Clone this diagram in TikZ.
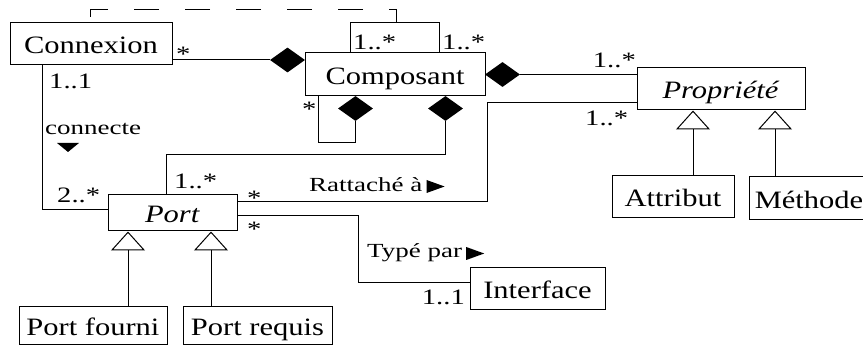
\documentclass[tikz,border=0pt]{standalone}
\usepackage{fontspec}
\setmainfont{Liberation Serif}[FakeStretch=1.22]
\newfontfamily\multfont{Liberation Serif}[FakeStretch=1.3]
\newfontfamily\assocfont{Liberation Serif}[FakeStretch=1.35]
\usepackage{tikz}
\usetikzlibrary{arrows.meta,positioning,shapes.geometric}

\begin{document}
\begin{tikzpicture}[x=1pt,y=-1pt,
    classbox/.style={draw,line width=1pt,inner sep=0pt,font=\fontsize{25}{30}\selectfont,
                     minimum height=42pt,text height=20pt,text depth=0pt},
    mult/.style={inner sep=0pt,font=\multfont\fontsize{22}{26}\selectfont},
    assoc/.style={inner sep=0pt,font=\assocfont\fontsize{20}{24}\selectfont},
    compo/.style={diamond,fill=black,inner sep=0pt,minimum width=35pt,minimum height=25pt},
    lien/.style={line width=1pt},
    herit/.style={line width=1pt,-{Triangle[open,length=19pt,width=34pt,line width=1pt]}},
    dashlink/.style={line width=1pt,dash pattern=on 25pt off 26pt,dash phase=5pt}]
  \useasboundingbox (0,0) rectangle (863,347);
  % classes
  \node[classbox,minimum width=162pt] (conn) at (91,44) {Connexion};
  \node[classbox,minimum width=180pt,minimum height=43pt] (comp) at (395,74.5) {Composant};
  \node[classbox,minimum width=168pt] (prop) at (721,89) {\textit{Propriété}};
  \node[classbox,minimum width=129pt,minimum height=36pt] (port) at (172.5,213) {\textit{Port}};
  \node[classbox,minimum width=135pt] (iface) at (537.5,289) {Interface};
  \node[classbox,minimum width=122pt] (attr) at (673,197) {Attribut};
  \node[classbox,minimum width=120pt,minimum height=43pt] (meth) at (809,198.5) {Méthode};
  \node[classbox,minimum width=148pt,minimum height=38pt] (pfourni) at (93,326) {Port fourni};
  \node[classbox,minimum width=149pt,minimum height=38pt] (preq) at (257.5,326) {Port requis};
  % compositions
  \node[compo] (dgc) at (287.5,60) {};
  \node[compo] (dcp) at (502.5,74.5) {};
  \node[compo] (dloop) at (355.5,108.5) {};
  \node[compo] (dport) at (445.5,108.5) {};
  \draw[lien] (conn.east |- dgc) -- (dgc.west);
  \draw[lien] (dcp.east) -- (prop.west |- dcp);
  \draw[lien] (comp.south -| 318,0) |- (dloop.south |- 0,143) -- (dloop.south);
  \draw[lien] (dport.south) |- (166,155) -- (port.north -| 166,0);
  % associations
  \draw[lien] (comp.north -| 350,0) |- (439,23) -- (comp.north -| 439,0);
  \coordinate (ac) at (396,23);
  \draw[dashlink] (ac) -- (396,10) -| (conn.north -| 90,0);
  \draw[lien] (conn.south -| 42,0) |- (port.west |- 0,210);
  \draw[lien] (port.east |- 0,202) -| (487,103) -- (prop.west |- 0,103);
  \draw[lien] (port.east |- 0,216) -| (358,283) -- (iface.west |- 0,283);
  % heritage
  \draw[herit] (pfourni.north -| 128,0) -- (port.south -| 128,0);
  \draw[herit] (preq.north -| 211,0) -- (port.south -| 211,0);
  \draw[herit] (attr.north -| 693,0) -- (prop.south -| 693,0);
  \draw[herit] (meth.north -| 775,0) -- (prop.south -| 775,0);
  % multiplicites
  \node[mult,anchor=base west] (m1) at (176,62) {*};
  \node[mult,anchor=base west] (m2) at (49,89) {1..1};
  \node[mult,anchor=base west] (m3) at (353,50) {1..*};
  \node[mult,anchor=base west] (m4) at (442,50) {1..*};
  \node[mult,anchor=base east] (m5) at (636,68) {1..*};
  \node[mult,anchor=base west] (m6) at (585,126) {1..*};
  \node[mult,anchor=base west] (m7) at (302,117) {*};
  \node[mult,anchor=base west] (m8) at (174,189) {1..*};
  \node[mult,anchor=base west] (m9) at (57,203) {2..*};
  \node[mult,anchor=base west] (m10) at (247,206) {*};
  \node[mult,anchor=base west] (m11) at (247,237) {*};
  \node[mult,anchor=base east] (m12) at (465,305) {1..1};
  % noms des associations
  \node[assoc,anchor=base west] (lconn) at (45,135) {connecte};
  \node[assoc,anchor=base west] (lratt) at (309,192) {Rattaché à};
  \node[assoc,anchor=base west] (ltype) at (367,258) {Typé par};
  \fill (57,143) -- (79,143) -- (68,152) -- cycle;
  \fill ([xshift=4pt]lratt.base east) ++(0,1) -- ++(0,-13) -- ++(18,6.5) -- cycle;
  \fill ([xshift=4pt]ltype.base east) ++(0,2) -- ++(0,-13) -- ++(18,6.5) -- cycle;
\end{tikzpicture}
\end{document}
